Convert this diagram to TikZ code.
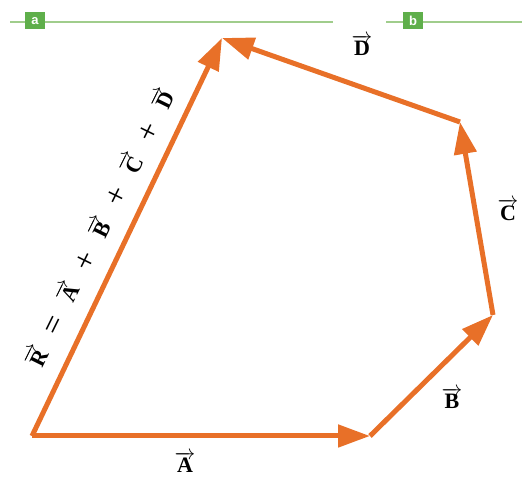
\documentclass[tikz,border=0pt]{standalone}
\usepackage{fontspec}
\setmainfont{Liberation Serif}
\newfontfamily\boxfont{Liberation Sans}
\usetikzlibrary{arrows.meta}
\definecolor{vecorange}{RGB}{232,112,40}
\definecolor{lightgreen}{RGB}{160,205,140}
\definecolor{boxgreen}{RGB}{95,175,75}
\newcommand{\vb}[1]{$\overrightarrow{\textbf{#1}}$}
\newcommand{\gp}{\hspace{16.5pt}}
\newcommand{\sg}[1]{\raisebox{-1pt}{\fontsize{32}{32}\selectfont #1}}
\tikzset{
  vecarrow/.style={draw=vecorange, line width=5pt, -{Triangle[length=32pt,width=22pt]}, shorten >=0pt},
  veclabel/.style={font=\fontsize{22}{25}\selectfont, inner sep=1pt},
  tagbox/.style={fill=boxgreen, text=white, font=\boxfont\bfseries\fontsize{13}{13}\selectfont, minimum width=20pt, minimum height=17pt, inner sep=0pt},
  greenline/.style={draw=lightgreen, line width=1.5pt}
}
\begin{document}
\begin{tikzpicture}[x=1pt,y=1pt]
\useasboundingbox (0,0) rectangle (522,484);
\coordinate (o) at (32,48);
\coordinate (a) at (370,48);
\coordinate (b) at (493,169);
\coordinate (c) at (460,362);
\coordinate (d) at (222,446);
\coordinate (l1s) at (10,462);
\coordinate (l1e) at (333,462);
\coordinate (l2s) at (386,462);
\coordinate (l2e) at (522,462);
\draw[greenline] (l1s) -- (l1e);
\draw[greenline] (l2s) -- (l2e);
\node[tagbox] (ta) at (35,463) {a};
\node[tagbox] (tb) at (413,463) {b};
\draw[vecarrow] (o) -- (a);
\draw[vecarrow] (a) -- (b);
\draw[vecarrow] (b) -- (c);
\draw[vecarrow] (c) -- (d);
\draw[vecarrow] (o) -- (d);
\node[veclabel] (la) at (185,22) {\vb{A}};
\node[veclabel] (lb) at (452,86) {\vb{B}};
\node[veclabel] (lc) at (508,274) {\vb{C}};
\node[veclabel] (ld) at (362,439) {\vb{D}};
\node[veclabel, rotate=63.8] (lr) at (100,256) {\vb{R}\gp\sg{=}\gp\vb{A}\gp\sg{+}\gp\vb{B}\gp\sg{+}\gp\vb{C}\gp\sg{+}\gp\vb{D}};
\end{tikzpicture}
\end{document}
